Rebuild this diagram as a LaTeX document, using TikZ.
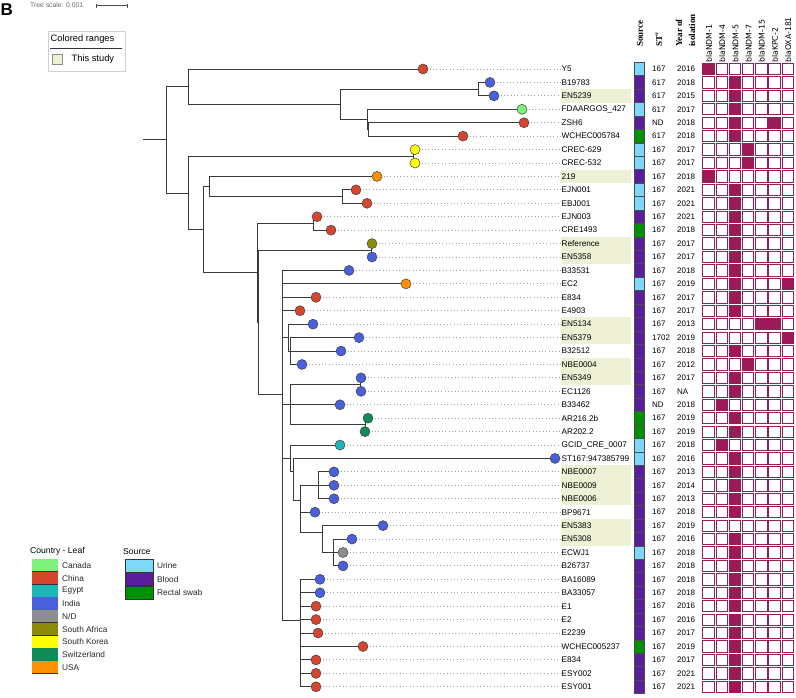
\documentclass[tikz,border=0pt]{standalone}
\usepackage{fontspec}
\setmainfont{Liberation Sans}
\newfontfamily\hdserif{Liberation Serif}
\newfontfamily\dvsans{DejaVu Sans}
\definecolor{cchina}{HTML}{D6452F}
\definecolor{cindia}{HTML}{4A5FDB}
\definecolor{ckorea}{HTML}{FFFF00}
\definecolor{cusa}{HTML}{FF9000}
\definecolor{ccanada}{HTML}{7CF27C}
\definecolor{csafrica}{HTML}{8C8C0A}
\definecolor{cswiss}{HTML}{108A57}
\definecolor{cegypt}{HTML}{1CB6B6}
\definecolor{cnd}{HTML}{8E8E8E}
\definecolor{surine}{HTML}{7ED8FA}
\definecolor{sblood}{HTML}{5A1E9C}
\definecolor{srectal}{HTML}{009100}
\definecolor{hlcol}{HTML}{EEF1D5}
\definecolor{genecol}{HTML}{9C1A55}
\definecolor{brcol}{HTML}{3A3A3A}
\tikzset{
  br/.style={draw=brcol,line width=0.95pt},
  tipdot/.style={circle,minimum size=10pt,inner sep=0pt,draw=black!75,line width=0.5pt},
  lead/.style={draw=gray!75,line width=0.9pt,dash pattern=on 0.9pt off 2.45pt},
  lab/.style={anchor=west,inner sep=0.5pt,font=\fontsize{8.2}{9}\selectfont},
  num/.style={anchor=west,inner sep=0pt,font=\fontsize{8}{9}\selectfont},
  gcell/.style={rectangle,minimum width=11.3pt,minimum height=11.3pt,inner sep=0pt,draw=genecol,line width=0.9pt},
  srccell/.style={rectangle,minimum width=10pt,minimum height=13.43pt,inner sep=0pt,draw=black!70,line width=0.5pt},
  ghead/.style={rotate=90,anchor=west,inner sep=0pt,font=\dvsans\fontsize{7.8}{8}\selectfont},
  shead/.style={rotate=90,anchor=west,inner sep=0pt,font=\hdserif\bfseries\fontsize{9}{9}\selectfont},
  legtxt/.style={anchor=west,inner sep=0pt,font=\fontsize{8.3}{9}\selectfont,text=black!85},
}
\def\leafdata{%
0/423/cchina/Y5/0/surine/167/2016/{1},
1/490/cindia/B19783/0/sblood/617/2018/{3},
2/494/cindia/EN5239/1/sblood/617/2015/{3},
3/522/ccanada/FDAARGOS\_427/0/surine/617/2017/{3},
4/524/cchina/ZSH6/0/sblood/ND/2018/{3,6},
5/463/cchina/WCHEC005784/0/srectal/617/2018/{3},
6/415/ckorea/CREC-629/0/surine/167/2017/{4},
7/415/ckorea/CREC-532/0/surine/167/2017/{4},
8/377/cusa/219/1/sblood/167/2018/{1},
9/356/cchina/EJN001/0/surine/167/2021/{3},
10/367/cchina/EBJ001/0/surine/167/2021/{3},
11/317/cchina/EJN003/0/sblood/167/2021/{3},
12/331/cchina/CRE1493/0/srectal/167/2018/{3},
13/372/csafrica/Reference/1/sblood/167/2017/{3},
14/372/cindia/EN5358/1/sblood/167/2017/{3},
15/349/cindia/B33531/0/sblood/167/2018/{3},
16/406/cusa/EC2/0/surine/167/2019/{3,7},
17/316/cchina/E834/0/sblood/167/2017/{3},
18/300/cchina/E4903/0/sblood/167/2017/{3},
19/313/cindia/EN5134/1/sblood/167/2013/{5,6},
20/359/cindia/EN5379/1/sblood/1702/2019/{7},
21/341/cindia/B32512/0/sblood/167/2018/{3},
22/302/cindia/NBE0004/1/sblood/167/2012/{4},
23/361/cindia/EN5349/1/sblood/167/2017/{3},
24/361/cindia/EC1126/0/sblood/167/NA/{3},
25/340/cindia/B33462/0/sblood/ND/2018/{2},
26/368/cswiss/AR216.2b/0/srectal/167/2019/{3},
27/365/cswiss/AR202.2/0/srectal/167/2019/{3},
28/340/cegypt/GCID\_CRE\_0007/0/surine/167/2018/{2},
29/555/cindia/ST167:947385799/0/surine/167/2016/{3},
30/334/cindia/NBE0007/1/sblood/167/2013/{3},
31/334/cindia/NBE0009/1/sblood/167/2014/{3},
32/334/cindia/NBE0006/1/sblood/167/2013/{3},
33/315/cindia/BP9671/0/sblood/167/2018/{3},
34/383/cindia/EN5383/1/sblood/167/2019/{0},
35/352/cindia/EN5308/1/sblood/167/2016/{3},
36/343/cnd/ECWJ1/0/surine/167/2018/{3},
37/343/cindia/B26737/0/sblood/167/2018/{3},
38/320/cindia/BA16089/0/sblood/167/2018/{3},
39/320/cindia/BA33057/0/sblood/167/2018/{3},
40/316/cchina/E1/0/sblood/167/2016/{3},
41/316/cchina/E2/0/sblood/167/2016/{3},
42/318/cchina/E2239/0/sblood/167/2017/{3},
43/363/cchina/WCHEC005237/0/srectal/167/2019/{3},
44/316/cchina/E834/0/sblood/167/2017/{3},
45/316/cchina/ESY002/0/sblood/167/2021/{3},
46/316/cchina/ESY001/0/sblood/167/2021/{3}}
\begin{document}
\begin{tikzpicture}[x=1pt,y=-1pt]
\useasboundingbox (0,0) rectangle (796,697);
% ---------- highlights and leaf coordinates
\foreach \i/\tx/\col/\lab/\hl/\src/\st/\yr/\g in \leafdata {
  \pgfmathsetmacro\ry{69+13.43*\i}
  \coordinate (tp\i) at (\tx,\ry);
  \ifnum\hl=1 \fill[hlcol] (561,\ry-6.72) rectangle (631,\ry+6.72); \fi
}
% ---------- labels and leaders
\foreach \i/\tx/\col/\lab/\hl/\src/\st/\yr/\g in \leafdata {
  \pgfmathsetmacro\ry{69+13.43*\i}
  \node[lab] (l\i) at (561,\ry) {\lab};
  \draw[lead] (tp\i) -- (l\i.west);
}
% ---------- internal nodes
\coordinate (root0) at (143,139.8);
\coordinate (R) at (166,139.8);
\coordinate (A) at (188,86.65);
\coordinate (A2) at (340,104.3);
\coordinate (A3) at (478,89.15);
\coordinate (A4) at (367,119.4);
\coordinate (A5) at (368,129.4);
\coordinate (B) at (188,193);
\coordinate (C) at (413,156.3);
\coordinate (D) at (203,229.6);
\coordinate (E) at (209,186.5);
\coordinate (E2) at (342,196.6);
\coordinate (F) at (257,272.8);
\coordinate (G) at (313,223.4);
\coordinate (F2) at (258,322.2);
\coordinate (H) at (371,250.3);
\coordinate (I) at (282,394);
\coordinate (I2) at (288,337.6);
\coordinate (I3) at (290,351.03);
\coordinate (I4) at (290,404.75);
\coordinate (I5) at (360,384.6);
\coordinate (I6) at (365,424.9);
\coordinate (I7) at (290,458);
\coordinate (I8) at (293,471.5);
\coordinate (K) at (300,500);
\coordinate (N) at (318,485.33);
\coordinate (P) at (322,532);
\coordinate (P2) at (333,552.5);
\coordinate (J) at (300,620);
% ---------- branches
\draw[br] (root0) -- (R);
\foreach \p/\c in {R/A,R/B,A/tp0,A/A2,A2/A3,A2/A4,A3/tp1,A3/tp2,A4/tp3,A4/A5,A5/tp4,A5/tp5,
  B/C,B/D,C/tp6,C/tp7,D/E,D/F,E/tp8,E/E2,E2/tp9,E2/tp10,F/G,F/F2,G/tp11,G/tp12,F2/H,F2/I,H/tp13,H/tp14,
  I/tp15,I/tp16,I/tp17,I/tp18,I/I2,I/I4,I/I7,I/J,I2/tp19,I2/I3,I3/tp20,I3/tp21,I3/tp22,
  I4/I5,I4/tp25,I4/I6,I5/tp23,I5/tp24,I6/tp26,I6/tp27,I7/tp28,I7/I8,I8/tp29,I8/K,
  K/N,K/tp33,K/P,N/tp30,N/tp31,N/tp32,P/tp34,P/P2,P2/tp35,P2/tp36,P2/tp37,
  J/tp38,J/tp39,J/tp40,J/tp41,J/tp42,J/tp43,J/tp44,J/tp45,J/tp46}
  {\draw[br] (\p) |- (\c);}
% ---------- tip dots, source strip, metadata
\foreach \i/\tx/\col/\lab/\hl/\src/\st/\yr/\g in \leafdata {
  \pgfmathsetmacro\ry{69+13.43*\i}
  \node[tipdot,fill=\col] (t\i) at (tp\i) {};
  \node[srccell,fill=\src] (s\i) at (639,\ry) {};
  \node[num] (st\i) at (652,\ry) {\st};
  \node[num] (yr\i) at (677,\ry) {\yr};
  \foreach \k in {1,...,7} {
    \node[gcell,fill=white] (g\i-\k) at ({708.5+13.2*(\k-1)},\ry) {};
  }
  \foreach \k in \g {
    \ifnum\k>0 \node[gcell,fill=genecol] (f\i-\k) at ({708.5+13.2*(\k-1)},\ry) {}; \fi
  }
}
% ---------- headers
\node[shead] (hsrc) at (640,47) {Source};
\node[shead] (hst) at (659,47) {ST\textsuperscript{v}};
\node[shead] (hyr1) at (679,47) {Year of};
\node[shead] (hyr2) at (692,47) {isolation};
\foreach \k/\t in {1/blaNDM-1,2/blaNDM-4,3/blaNDM-5,4/blaNDM-7,5/blaNDM-15,6/blaKPC-2,7/blaOXA-181}
  {\node[ghead] (gh\k) at ({708.5+13.2*(\k-1)+0.5},63) {\t};}
% ---------- top-left
\node[anchor=base west,inner sep=0pt,font=\bfseries\fontsize{17}{17}\selectfont] (panel) at (0.5,15.5) {B};
\node[anchor=west,inner sep=0pt,font=\fontsize{6.8}{7}\selectfont,text=black!60] (tscale) at (30,5.5) {Tree scale: 0.001};
\coordinate (sb1) at (96,5.5);
\coordinate (sb2) at (127,5.5);
\draw[black!70,line width=0.8pt] (sb1) -- (sb2);
\draw[black!70,line width=0.8pt] ([yshift=-2pt]sb1) -- ([yshift=2pt]sb1);
\draw[black!70,line width=0.8pt] ([yshift=-2pt]sb2) -- ([yshift=2pt]sb2);
\draw[black!18,line width=0.6pt] (48,31) rectangle (125,71);
\node[anchor=west,inner sep=0pt,font=\fontsize{9.3}{10}\selectfont] (crt) at (50.5,39.5) {Colored ranges};
\draw[black!80,line width=0.6pt] (50,48.5) -- (122,48.5);
\node[rectangle,minimum width=10pt,minimum height=10pt,inner sep=0pt,draw=black!45,line width=0.5pt,fill=hlcol] (crsw) at (57,59) {};
\node[anchor=west,inner sep=0pt,font=\fontsize{9.3}{10}\selectfont] (crts) at (71.5,59.5) {This study};
% ---------- bottom-left legends
\node[anchor=west,inner sep=0pt,font=\fontsize{8.6}{9}\selectfont] (cleg) at (30,551.5) {Country - Leaf};
\foreach \k/\c/\t in {0/ccanada/Canada,1/cchina/China,2/cegypt/Egypt,3/cindia/India,4/cnd/{N/D},5/csafrica/South Africa,6/ckorea/South Korea,7/cswiss/Switzerland,8/cusa/USA} {
  \fill[\c] (32,{559+12.75*\k}) rectangle (58,{571.75+12.75*\k});
  \draw[black!80,line width=0.6pt] (32,{571.75+12.75*\k}) -- (58,{571.75+12.75*\k});
  \node[legtxt] (cl\k) at (62,{565.4+12.75*\k}) {\t};
}
\node[anchor=west,inner sep=0pt,font=\fontsize{8.6}{9}\selectfont] (sleg) at (123,551.5) {Source};
\foreach \k/\c/\t in {0/surine/Urine,1/sblood/Blood,2/srectal/Rectal swab} {
  \node[rectangle,minimum width=28pt,minimum height=13pt,inner sep=0pt,draw=black!80,line width=0.6pt,fill=\c] (ss\k) at (139,{566+13.2*\k}) {};
  \node[legtxt] (sl\k) at (157,{566+13.2*\k}) {\t};
}
\end{tikzpicture}
\end{document}
